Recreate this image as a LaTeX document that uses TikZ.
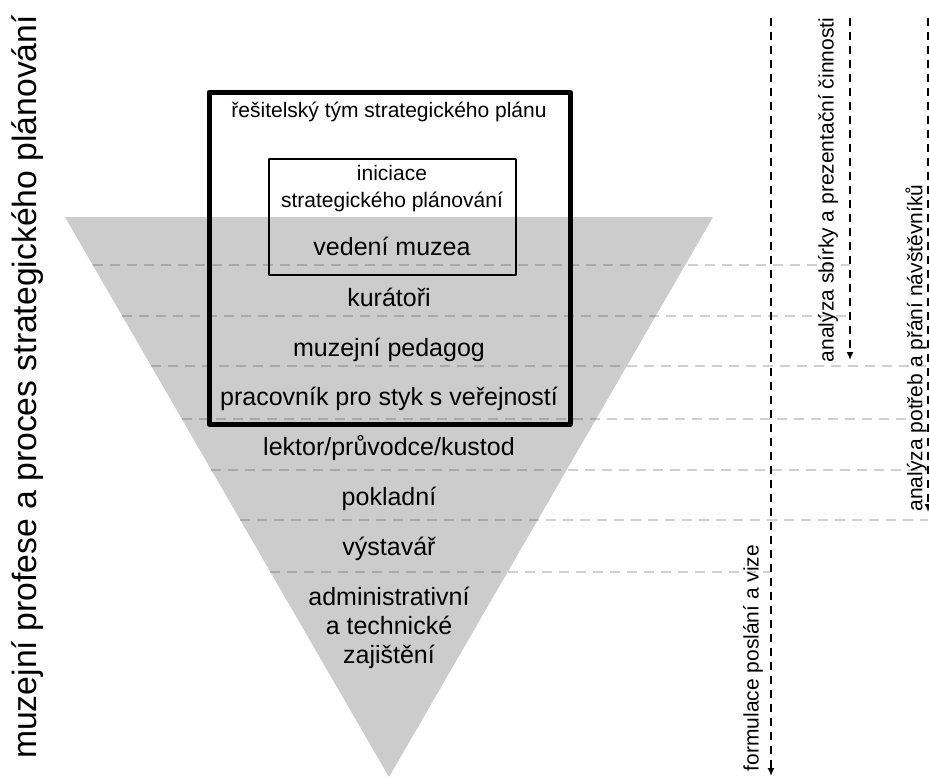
\documentclass[tikz,border=0pt]{standalone}
\usepackage{fontspec}
\setmainfont{Liberation Sans}
\usetikzlibrary{arrows.meta,calc}
\definecolor{trifill}{HTML}{CCCCCC}
\definecolor{dashin}{HTML}{A8A8A8}
\definecolor{dashout}{HTML}{D0D0D0}
\begin{document}
\begin{tikzpicture}[x=1pt,y=-1pt,
  lbl/.style={font=\fontsize{25}{29}\selectfont, anchor=base, inner sep=0pt, align=center},
  small/.style={font=\fontsize{21}{26.5}\selectfont, anchor=base, inner sep=0pt, align=center},
  side/.style={font=\fontsize{21}{25}\selectfont, rotate=90, inner sep=0pt},
  flow/.style={line width=2.4pt, dash pattern=on 8pt off 6pt, -{Latex[length=8pt,width=7pt]}},
  sepline/.style={line width=1.5pt, dash pattern=on 10pt off 7pt},
  boxframe/.style={draw, inner sep=0pt, line join=round},
]
\fill[white] (0,0) rectangle (929,777);
\useasboundingbox (0,0) rectangle (929,777);

% triangle
\coordinate (tl) at (65,217);
\coordinate (tr) at (713,217);
\coordinate (ap) at (389,777);
\fill[trifill] (tl) -- (tr) -- (ap) -- cycle;

% arrow end points
\coordinate (a1s) at (771,18);  \coordinate (a1e) at (771,776);
\coordinate (a2s) at (850,18);  \coordinate (a2e) at (850,360);
\coordinate (a3s) at (928,18);  \coordinate (a3e) at (928,512);

% separator start points on the left edge of the triangle
\coordinate (s1) at ($(tl)!0.0857!(ap)$);
\coordinate (s2) at ($(tl)!0.1768!(ap)$);
\coordinate (s3) at ($(tl)!0.2661!(ap)$);
\coordinate (s4) at ($(tl)!0.3607!(ap)$);
\coordinate (s5) at ($(tl)!0.4518!(ap)$);
\coordinate (s6) at ($(tl)!0.5411!(ap)$);
\coordinate (s7) at ($(tl)!0.6339!(ap)$);

\newcommand{\seplines}{%
  \draw[sepline] (s1) -- (s1 -| a2s);
  \draw[sepline] (s2) -- (s2 -| a2s);
  \draw[sepline] (s3) -- (s3 -| a3s);
  \draw[sepline] (s4) -- (s4 -| a3s);
  \draw[sepline] (s5) -- (s5 -| a3s);
  \draw[sepline] (s6) -- (s6 -| a3s);
  \draw[sepline] (s7) -- (s7 -| a1s);
}
\begin{scope}[dashout]
  \seplines
\end{scope}
\begin{scope}[dashin]
  \clip (tl) -- (tr) -- (ap) -- cycle;
  \seplines
\end{scope}

% boxes
\node[boxframe, line width=5pt, minimum width=361pt, minimum height=332pt] (team) at (389.5,258) {};
\node[boxframe, line width=2pt, minimum width=247pt, minimum height=116pt] (init) at (392.5,217) {};

% texts (multi-line nodes: base = baseline of last line)
\node[small] (teamlbl) at (389,117) {řešitelský tým strategického plánu};
\node[small] (initlbl) at (392,207) {iniciace\\strategického plánování};
\node[lbl] (ved) at (392,255) {vedení muzea};
\node[lbl] (kur) at (389,306) {kurátoři};
\node[lbl] (ped) at (389,356) {muzejní pedagog};
\node[lbl] (pra) at (389,405) {pracovník pro styk s veřejností};
\node[lbl] (lek) at (389,455) {lektor/průvodce/kustod};
\node[lbl] (pok) at (389,505) {pokladní};
\node[lbl] (vys) at (389,555) {výstavář};
\node[lbl] (adm) at (389,663) {administrativní\\a technické\\zajištění};

% process arrows
\draw[flow] (a1s) -- (a1e);
\draw[flow] (a2s) -- (a2e);
\draw[flow] (a3s) -- (a3e);
\node[side] (f1) at (753,658) {formulace poslání a vize};
\node[side] (f2) at (828,190) {analýza sbírky a prezentační činnosti};
\node[side] (f3) at (916,348) {analýza potřeb a přání návštěvníků};

% left title
\node[side, font=\fontsize{33.7}{40}\selectfont] (title) at (28,387) {muzejní profese a proces strategického plánování};
\end{tikzpicture}
\end{document}
